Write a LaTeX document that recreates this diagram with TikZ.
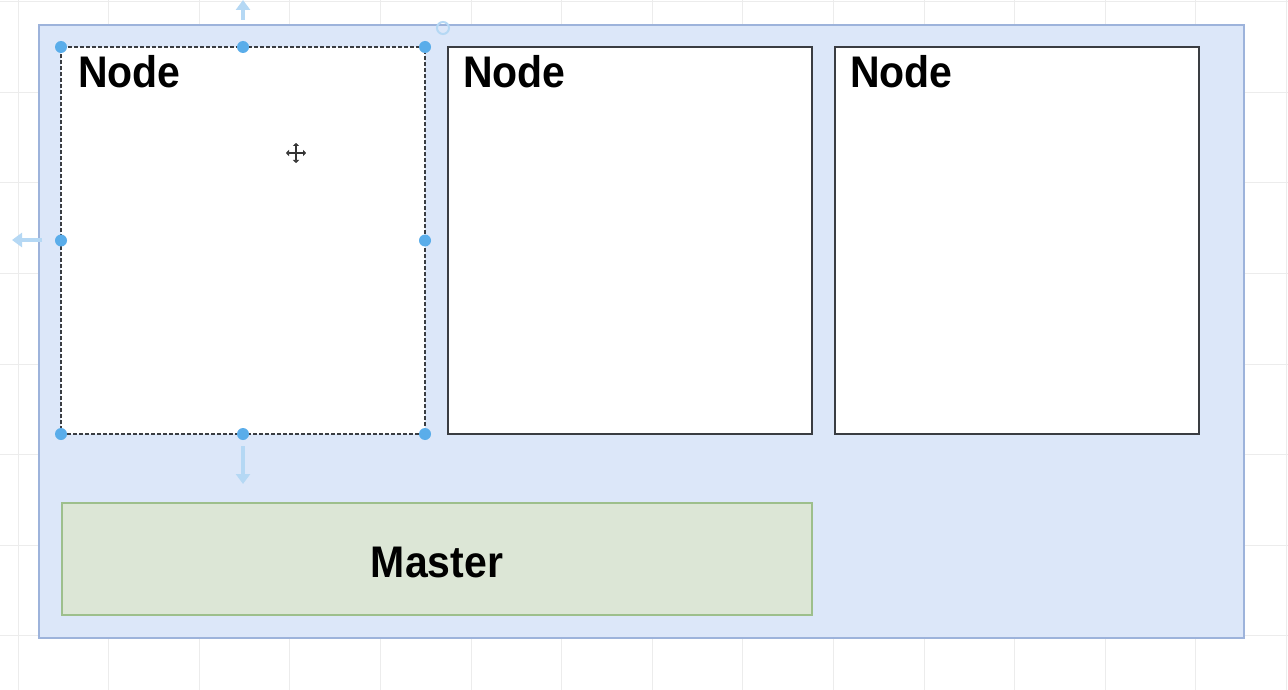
\documentclass[tikz,border=0pt]{standalone}
\usepackage{fontspec}
\setmainfont{Liberation Sans}
\usetikzlibrary{arrows.meta}
\definecolor{gridc}{HTML}{ECECEC}
\definecolor{contfill}{HTML}{DCE7F9}
\definecolor{contline}{HTML}{9DB3DB}
\definecolor{nodeline}{HTML}{3A3D42}
\definecolor{mfill}{HTML}{DCE6D6}
\definecolor{mline}{HTML}{9DBF8C}
\definecolor{handle}{HTML}{5AADEA}
\definecolor{ghost}{HTML}{B5D8F4}
\begin{document}
\begin{tikzpicture}[x=1pt,y=-1pt,
  gridline/.style={draw=gridc, line width=0.8pt},
  container/.style={draw=contline, fill=contfill, line width=1.6pt, inner sep=0pt, outer sep=0pt, anchor=north west},
  nodebox/.style={draw=nodeline, fill=white, line width=1.8pt, inner sep=0pt, outer sep=0pt, anchor=north west, minimum width=364pt, minimum height=387pt},
  selbox/.style={nodebox, dashed, dash pattern=on 4pt off 2pt, line width=1.4pt},
  mastbox/.style={draw=mline, fill=mfill, line width=1.4pt, inner sep=0pt, outer sep=0pt, anchor=north west, minimum width=750pt, minimum height=112pt},
  lbl/.style={inner sep=0pt, font=\bfseries\fontsize{41}{48}\selectfont, yscale=1.08},
  hdl/.style={circle, fill=handle, inner sep=0pt, minimum size=12pt},
  ghostarrow/.style={draw=ghost, line width=4pt, -{Triangle[length=10pt,width=14pt]}}
]
\useasboundingbox (0,0) rectangle (1288,690);
\fill[white] (0,0) rectangle (1288,690);
\foreach \i in {0,...,14} \draw[gridline] ({18+90.6*\i},0) -- ({18+90.6*\i},690);
\foreach \j in {0,...,7} \draw[gridline] (0,{1.5+90.6*\j}) -- (1288,{1.5+90.6*\j});

\node[container, minimum width=1205pt, minimum height=613pt] (cont) at (39,25) {};

\node[selbox] (n1) at (61,47) {};
\node[nodebox] (n2) at (448,47) {};
\node[nodebox] (n3) at (835,47) {};
\node[lbl, anchor=base west] (l1) at (78,88) {Node};
\node[lbl, anchor=base west] (l2) at (463,88) {Node};
\node[lbl, anchor=base west] (l3) at (850,88) {Node};

\node[mastbox] (m) at (62,503) {};
\node[lbl, anchor=base] (ml) at (437,577) {Master};

% selection handles
\coordinate (u0) at (243,20);
\coordinate (u1) at (243,0);
\coordinate (le0) at (42,240);
\coordinate (le1) at (12,240);
\coordinate (d0) at (243,446);
\coordinate (d1) at (243,484);
\draw[ghostarrow] (u0) -- (u1);
\draw[ghostarrow] (le0) -- (le1);
\draw[ghostarrow] (d0) -- (d1);
\foreach \a in {north west, north, north east, west, east, south west, south, south east}
  \node[hdl] at (n1.\a) {};
\node[circle, draw=ghost, line width=2pt, inner sep=0pt, minimum size=12pt] (rot) at (443,28) {};

% cursor
\coordinate (c) at (296,153);
\draw[line width=2pt, black!80, {Triangle[length=3pt,width=6pt]}-{Triangle[length=3pt,width=6pt]}] ([xshift=-10pt]c) -- ([xshift=10pt]c);
\draw[line width=2pt, black!80, {Triangle[length=3pt,width=6pt]}-{Triangle[length=3pt,width=6pt]}] ([yshift=-10pt]c) -- ([yshift=10pt]c);
\end{tikzpicture}
\end{document}
